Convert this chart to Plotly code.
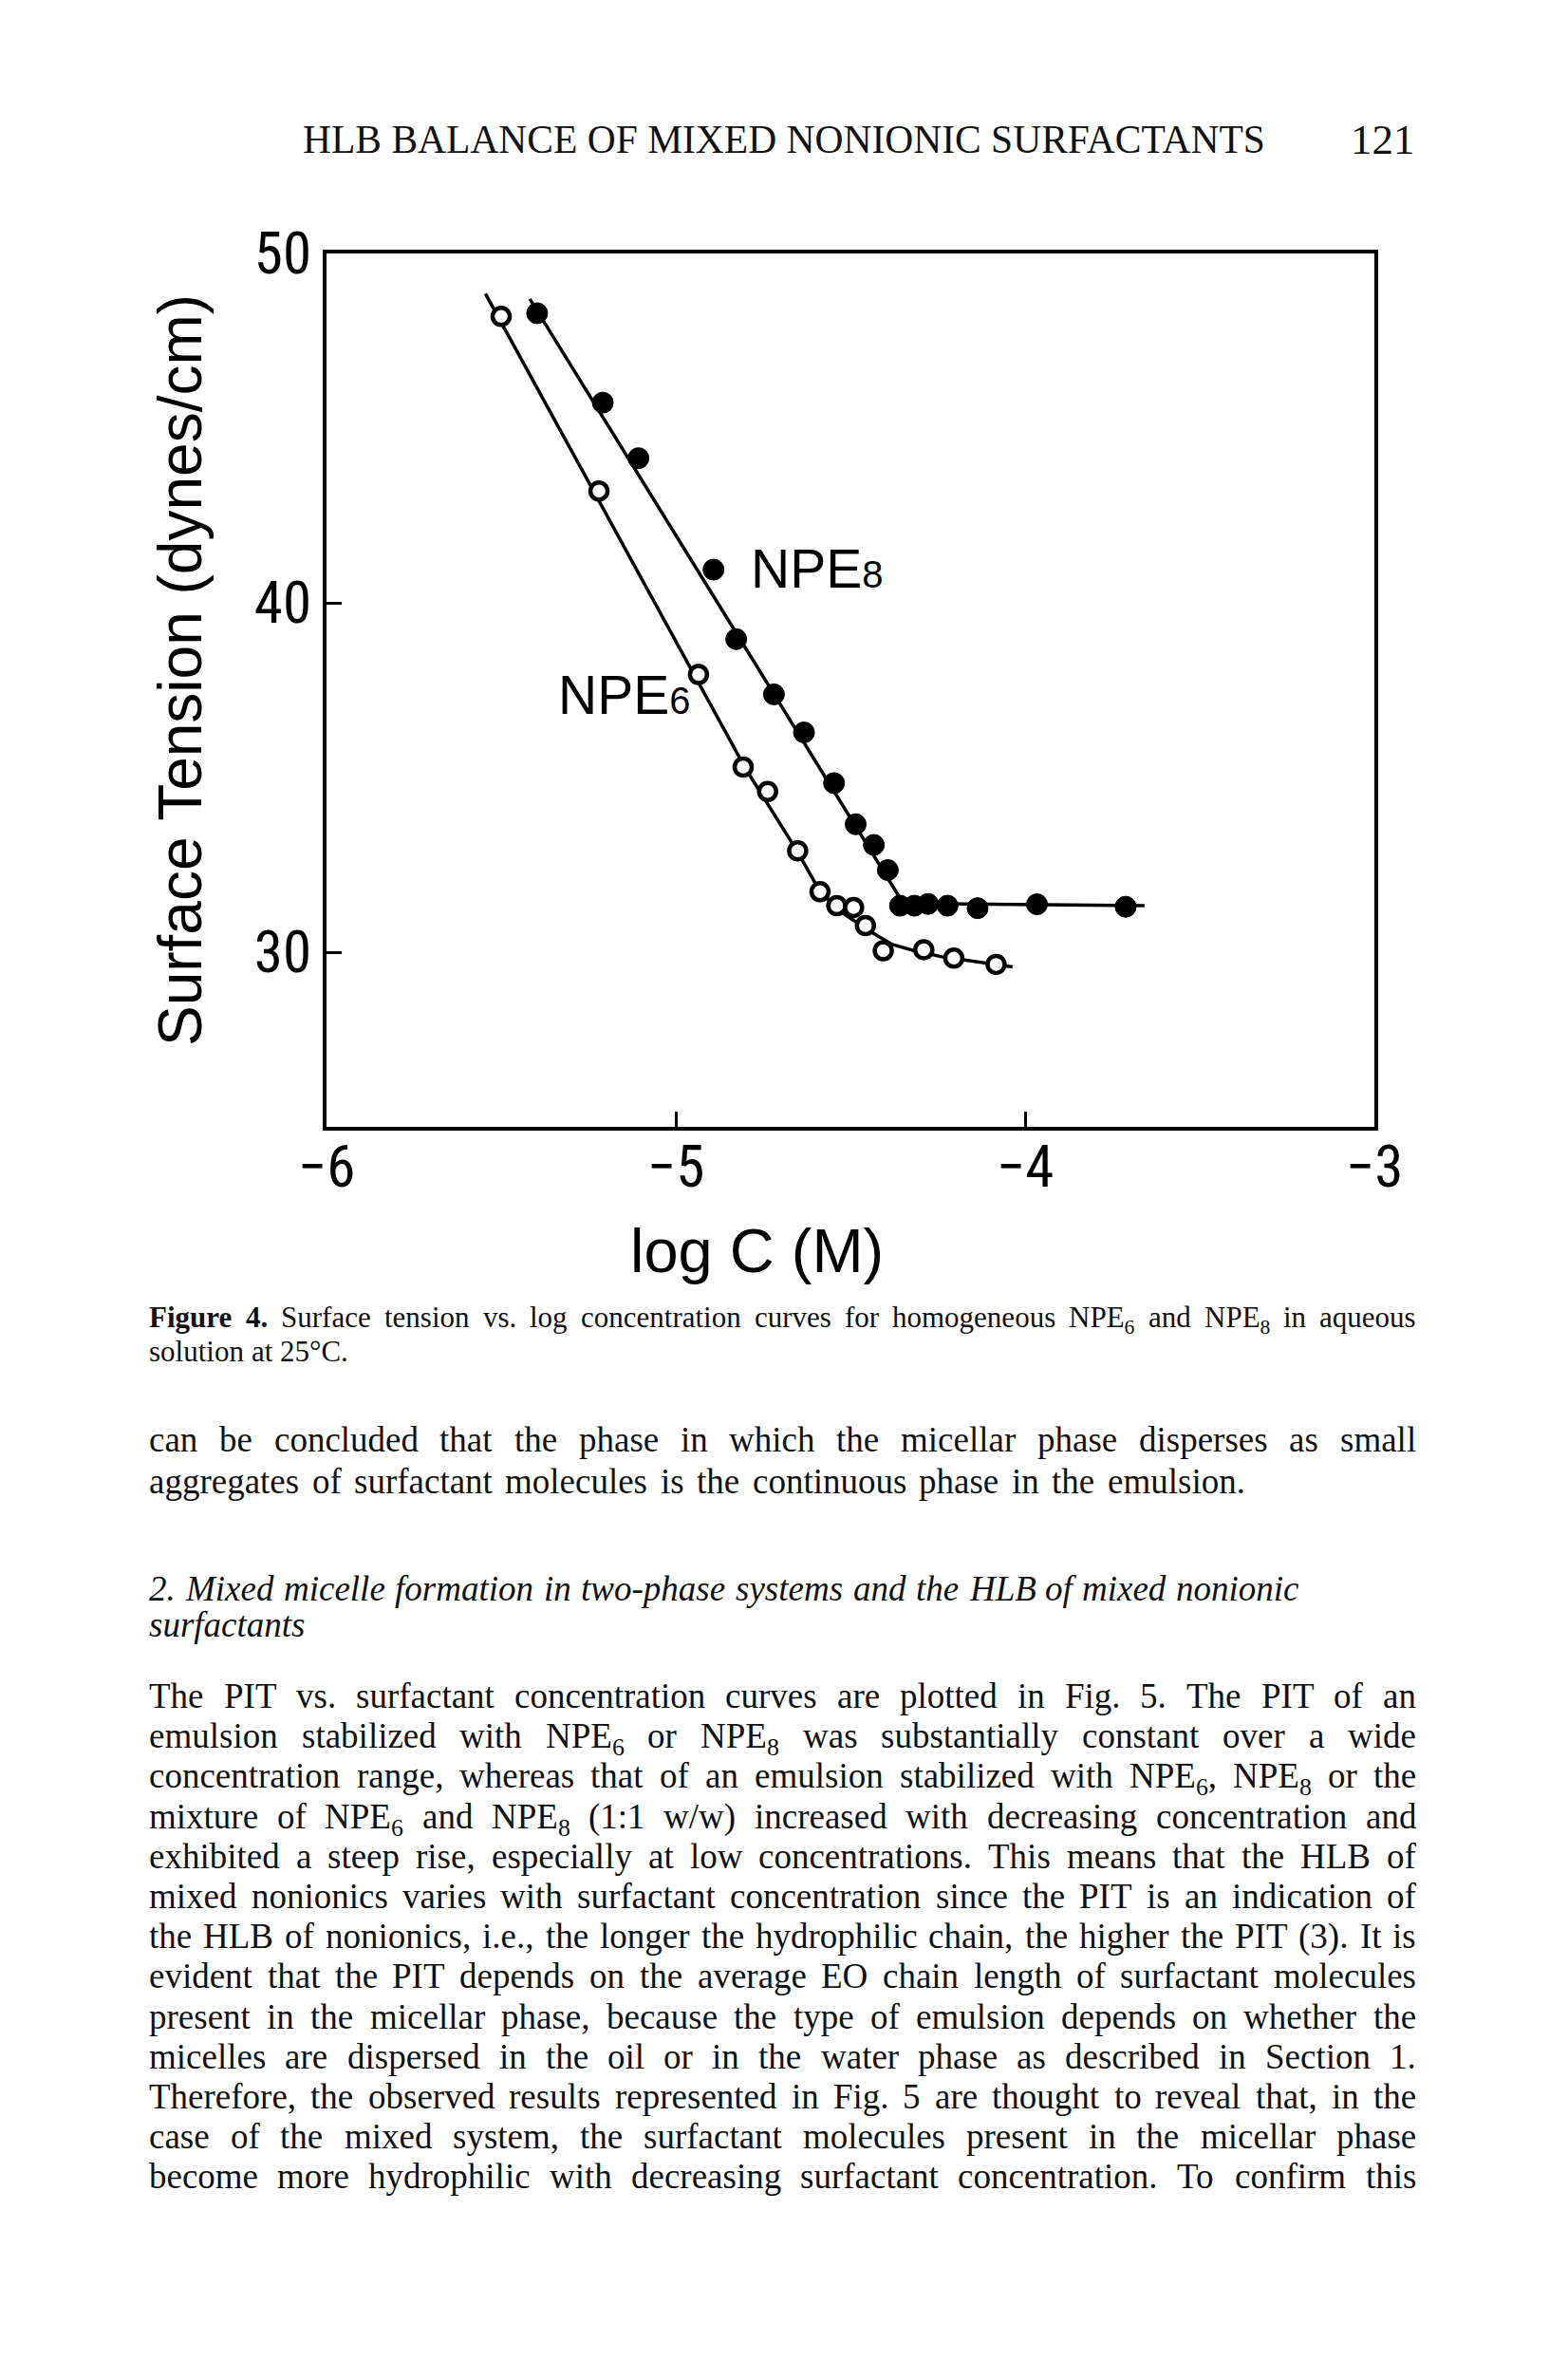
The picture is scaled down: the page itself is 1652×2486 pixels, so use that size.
import re
import plotly.graph_objects as go

# ---------------- data ----------------
# NPE6 (open circles): log C (M) vs surface tension (dynes/cm)
npe6_logc = [-5.50, -5.22, -4.935, -4.807, -4.737, -4.651, -4.587, -4.539,
             -4.491, -4.457, -4.406, -4.290, -4.204, -4.083]
npe6_gamma = [48.2, 43.2, 37.95, 35.3, 34.6, 32.9, 31.73, 31.33,
              31.28, 30.76, 30.04, 30.07, 29.83, 29.65]
# hand-drawn guide curve through NPE6
npe6_curve_logc = [-5.545, -4.80, -4.65, -4.587, -4.516, -4.435, -4.38, -4.317, -4.235, -4.036]
npe6_curve_gamma = [48.85, 35.25, 32.85, 31.73, 31.08, 30.54, 30.22, 30.04, 29.86, 29.58]

# NPE8 (filled circles)
npe8_logc = [-5.397, -5.209, -5.107, -4.892, -4.827, -4.719, -4.633, -4.547, -4.485,
             -4.433, -4.393, -4.358, -4.317, -4.278, -4.222, -4.136, -3.966, -3.712]
npe8_gamma = [48.29, 45.73, 44.14, 40.95, 38.96, 37.38, 36.29, 34.84, 33.66,
              33.07, 32.35, 31.33, 31.33, 31.38, 31.33, 31.26, 31.37, 31.30]
npe8_curve_logc = [-5.418, -4.349, -3.658]
npe8_curve_gamma = [48.70, 31.40, 31.33]

x_range = [-6, -3]
y_range = [25, 50]
x_ticks = [-6, -5, -4, -3]
y_ticks = [30, 40, 50]

x_title = "log C (M)"
y_title = "Surface Tension (dynes/cm)"
label_npe6 = "NPE<span style='font-size:40px'>6</span>"
label_npe8 = "NPE<span style='font-size:40px'>8</span>"

header_text = "HLB BALANCE OF MIXED NONIONIC SURFACTANTS"
page_number = "121"

caption_lines = [
    "<b>Figure</b> <b>4.</b> Surface tension vs. log concentration curves for homogeneous "
    "NPE<sub>6</sub> and NPE<sub>8</sub> in aqueous",
    "solution at 25°C.",
]

body_lines = [
    "can be concluded that the phase in which the micellar phase disperses as small",
    "aggregates of surfactant molecules is the continuous phase in the emulsion.",
    "2. Mixed micelle formation in two-phase systems and the HLB of mixed nonionic",
    "surfactants",
    "The PIT vs. surfactant concentration curves are plotted in Fig. 5. The PIT of an",
    "emulsion stabilized with NPE<sub>6</sub> or NPE<sub>8</sub> was substantially constant over a wide",
    "concentration range, whereas that of an emulsion stabilized with NPE<sub>6</sub>, NPE<sub>8</sub> or the",
    "mixture of NPE<sub>6</sub> and NPE<sub>8</sub> (1:1 w/w) increased with decreasing concentration and",
    "exhibited a steep rise, especially at low concentrations. This means that the HLB of",
    "mixed nonionics varies with surfactant concentration since the PIT is an indication of",
    "the HLB of nonionics, i.e., the longer the hydrophilic chain, the higher the PIT (3). It is",
    "evident that the PIT depends on the average EO chain length of surfactant molecules",
    "present in the micellar phase, because the type of emulsion depends on whether the",
    "micelles are dispersed in the oil or in the water phase as described in Section 1.",
    "Therefore, the observed results represented in Fig. 5 are thought to reveal that, in the",
    "case of the mixed system, the surfactant molecules present in the micellar phase",
    "become more hydrophilic with decreasing surfactant concentration. To confirm this",
]
body_italic = [False, False, True, True] + [False] * 13

# ---------------- page geometry (pixels) ----------------
W, H = 1652, 2486
X0, X1, Y0, Y1 = 344, 1448, 267, 1187
PW, PH = X1 - X0, Y1 - Y0
TEXT_LEFT, TEXT_RIGHT = 156, 1491
CAP_SIZE, BODY_SIZE = 31, 37
caption_base = [1397, 1433]
caption_right = [TEXT_RIGHT, None]
body_base = [1528, 1572, 1685, 1723] + [1798 + 42.2 * k for k in range(13)]
body_right = [TEXT_RIGHT, 1311, 1368, None] + [TEXT_RIGHT] * 13

SANS = "Liberation Sans, Arial, Helvetica, sans-serif"
NARROW = "Liberation Sans Narrow, Roboto Condensed, DejaVu Sans Condensed, Liberation Sans, sans-serif"
SERIF = "Liberation Serif, Times New Roman, serif"


def pxx(x):
    return (x - X0) / PW


def pxy(y):
    return (Y1 - y) / PH


# Times / Liberation Serif advance widths (1/1000 em)
_R = {' ': 250, '!': 333, '(': 333, ')': 333, ',': 250, '-': 333, '.': 250, '/': 278,
      ':': 278, ';': 278, '°': 400, 'A': 722, 'B': 667, 'C': 667, 'D': 722, 'E': 611,
      'F': 556, 'G': 722, 'H': 722, 'I': 333, 'J': 389, 'K': 722, 'L': 611, 'M': 889,
      'N': 722, 'O': 722, 'P': 556, 'Q': 722, 'R': 667, 'S': 556, 'T': 611, 'U': 722,
      'V': 722, 'W': 944, 'X': 722, 'Y': 722, 'Z': 611, 'a': 444, 'b': 500, 'c': 444,
      'd': 500, 'e': 444, 'f': 333, 'g': 500, 'h': 500, 'i': 278, 'j': 278, 'k': 500,
      'l': 278, 'm': 778, 'n': 500, 'o': 500, 'p': 500, 'q': 500, 'r': 333, 's': 389,
      't': 278, 'u': 500, 'v': 500, 'w': 722, 'x': 500, 'y': 500, 'z': 444}
_B = dict(_R, **{'F': 611, 'u': 556, 'r': 444, 'g': 500, 'e': 444, 'i': 278})
_I = dict(_R, **{'a': 500, 'f': 278, 'k': 444, 'm': 722, 'r': 389, 'v': 444, 'w': 667,
                 'x': 444, 'y': 444, 'z': 389, 'M': 833, 'L': 556, 'B': 611, 'H': 722})


def word_width(word, size, italic):
    total, bold, sub = 0.0, False, False
    for tok in re.split(r'(<[^>]+>)', word):
        if tok == '<b>':
            bold = True
        elif tok == '</b>':
            bold = False
        elif tok == '<sub>':
            sub = True
        elif tok == '</sub>':
            sub = False
        elif tok:
            table = _B if bold else (_I if italic else _R)
            s = size * (0.7 if sub else 1.0)
            total += sum(table.get(ch, 500) for ch in tok) / 1000.0 * s
    return total


annotations = []


def add_line(text, baseline, right, size, italic):
    words = text.split(' ')
    widths = [word_width(w, size, italic) for w in words]
    space = 0.25 * size
    gap = space
    if right is not None and len(words) > 1:
        g = (right - TEXT_LEFT - sum(widths)) / (len(words) - 1)
        gap = max(g, space * 0.7)
    x = TEXT_LEFT
    top = baseline - 0.891 * size
    for w, wd in zip(words, widths):
        annotations.append(dict(
            text=w, x=pxx(x), y=pxy(top), xref='paper', yref='paper',
            xanchor='left', yanchor='top', showarrow=False, borderpad=0,
            font=dict(family=SERIF, size=size, color='#111',
                      style='italic' if italic else 'normal')))
        x += wd + gap


for t, b, r in zip(caption_lines, caption_base, caption_right):
    add_line(t, b, r, CAP_SIZE, False)
for t, b, r, it in zip(body_lines, body_base, body_right, body_italic):
    add_line(t, b, r, BODY_SIZE, it)

# header
annotations.append(dict(text=header_text, x=pxx(826), y=pxy(147), xref='paper', yref='paper',
                        xanchor='center', yanchor='middle', showarrow=False,
                        font=dict(family=SERIF, size=41.5, color='#111')))
annotations.append(dict(text=page_number, x=pxx(1457), y=pxy(147), xref='paper', yref='paper',
                        xanchor='center', yanchor='middle', showarrow=False,
                        font=dict(family=SERIF, size=45, color='#111')))

# axis titles
annotations.append(dict(text=y_title, x=pxx(190), y=pxy(706), xref='paper', yref='paper',
                        xanchor='center', yanchor='middle', textangle=-90, showarrow=False,
                        font=dict(family=SANS, size=64, color='black')))
annotations.append(dict(text=x_title, x=pxx(797), y=pxy(1317), xref='paper', yref='paper',
                        xanchor='center', yanchor='middle', showarrow=False,
                        font=dict(family=SANS, size=65, color='black')))

# curve labels (data coordinates)
annotations.append(dict(text=label_npe8, x=-4.788, y=40.4, xref='x', yref='y',
                        xanchor='left', yanchor='bottom', yshift=-12, showarrow=False,
                        borderpad=0, font=dict(family=SANS, size=57, color='black')))
annotations.append(dict(text=label_npe6, x=-5.34, y=36.8, xref='x', yref='y',
                        xanchor='left', yanchor='bottom', yshift=-12, showarrow=False,
                        borderpad=0, font=dict(family=SANS, size=57, color='black')))

fig = go.Figure()
fig.add_trace(go.Scatter(x=npe6_curve_logc, y=npe6_curve_gamma, mode='lines',
                         line=dict(color='black', width=3.5), showlegend=False, hoverinfo='skip'))
fig.add_trace(go.Scatter(x=npe8_curve_logc, y=npe8_curve_gamma, mode='lines',
                         line=dict(color='black', width=3.5), showlegend=False, hoverinfo='skip'))
fig.add_trace(go.Scatter(x=npe6_logc, y=npe6_gamma, mode='markers', name='NPE6',
                         marker=dict(symbol='circle', size=18, color='white',
                                     line=dict(color='black', width=4.5)), showlegend=False))
fig.add_trace(go.Scatter(x=npe8_logc, y=npe8_gamma, mode='markers', name='NPE8',
                         marker=dict(symbol='circle', size=22, color='black',
                                     line=dict(color='black', width=1)), showlegend=False))

axis_common = dict(ticks='inside', ticklen=16, tickwidth=3, tickcolor='black',
                   showline=True, linewidth=3.5, linecolor='black', mirror=True,
                   showgrid=False, zeroline=False,
                   tickfont=dict(family=NARROW, size=61, color='black'))

fig.update_layout(
    width=W, height=H,
    margin=dict(l=X0, r=W - X1, t=Y0, b=H - Y1, pad=0),
    paper_bgcolor='white', plot_bgcolor='white',
    xaxis=dict(range=x_range, tickvals=x_ticks, ticklabelstandoff=-14, **axis_common),
    yaxis=dict(range=y_range, tickvals=y_ticks, ticklabelstandoff=0, **axis_common),
    annotations=annotations,
    showlegend=False,
)

fig.write_html("out.html", config={'displayModeBar': False},
               post_script="document.body.style.margin='0px';document.body.style.overflow='hidden';")
